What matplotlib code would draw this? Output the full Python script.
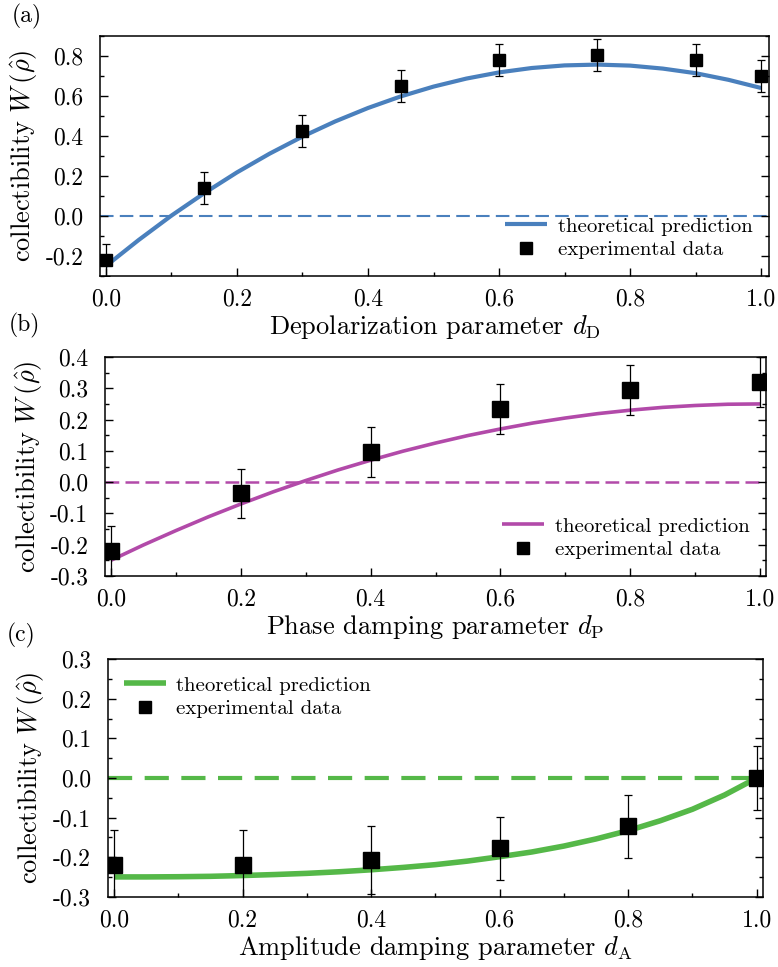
import matplotlib
matplotlib.use("Agg")
import matplotlib.pyplot as plt
from matplotlib.ticker import MultipleLocator

plt.rcParams['font.family'] = ['cmr10', 'DejaVu Serif']
plt.rcParams['mathtext.fontset'] = 'cm'
plt.rcParams['axes.unicode_minus'] = False
plt.rcParams['axes.formatter.use_mathtext'] = False

# ---------------- data ----------------
# (a) depolarization
xa_exp = [0.0, 0.15, 0.30, 0.45, 0.60, 0.75, 0.90, 1.0]
ya_exp = [-0.22, 0.14, 0.425, 0.65, 0.78, 0.805, 0.78, 0.70]
ea_exp = [0.08, 0.08, 0.08, 0.08, 0.08, 0.08, 0.08, 0.08]
xa_th = [0.0, 0.05, 0.10, 0.15, 0.20, 0.25, 0.30, 0.35, 0.40, 0.45, 0.50,
         0.55, 0.60, 0.65, 0.70, 0.75, 0.80, 0.85, 0.90, 0.95, 1.0]
ya_th = [-0.25, -0.12, 0.002, 0.114, 0.218, 0.312, 0.397, 0.473, 0.540,
         0.598, 0.647, 0.687, 0.718, 0.740, 0.753, 0.757, 0.752, 0.737,
         0.714, 0.681, 0.640]

# (b) phase damping
xb_exp = [0.0, 0.2, 0.4, 0.6, 0.8, 1.0]
yb_exp = [-0.22, -0.036, 0.097, 0.235, 0.295, 0.32]
eb_exp = [0.08, 0.078, 0.08, 0.08, 0.08, 0.08]
xb_th = xa_th
yb_th = [-0.25, -0.201, -0.155, -0.111, -0.070, -0.031, 0.005, 0.039,
         0.070, 0.099, 0.125, 0.149, 0.170, 0.189, 0.205, 0.219, 0.230,
         0.239, 0.245, 0.249, 0.250]

# (c) amplitude damping
xc_exp = [0.0, 0.2, 0.4, 0.6, 0.8, 1.0]
yc_exp = [-0.22, -0.22, -0.208, -0.178, -0.122, 0.0]
ec_exp = [0.088, 0.088, 0.086, 0.08, 0.08, 0.08]
xc_th = xa_th
yc_th = [-0.25, -0.25, -0.2495, -0.2485, -0.2465, -0.244, -0.241, -0.237,
         -0.232, -0.226, -0.219, -0.210, -0.199, -0.187, -0.172, -0.154,
         -0.133, -0.108, -0.079, -0.043, 0.0]

xticks = [0.0, 0.2, 0.4, 0.6, 0.8, 1.0]
xlabels = [r'Depolarization parameter $d_{\mathrm{D}}$',
           r'Phase damping parameter $d_{\mathrm{P}}$',
           r'Amplitude damping parameter $d_{\mathrm{A}}$']
ylabel = r'collectibility $W\,(\hat{\rho})$'
panel_labels = ['(a)', '(b)', '(c)']

blue = '#4a80bd'
magenta = '#b24aa9'
green = '#55b848'

fig = plt.figure(figsize=(7.78, 9.67), dpi=100)
W, H = 778, 967

def make_ax(l, r, t, b):
    return fig.add_axes([l / W, 1 - b / H, (r - l) / W, (b - t) / H])

axa = make_ax(100, 769, 36, 276)
axb = make_ax(105, 766, 357, 576)
axc = make_ax(107.7, 763, 659.3, 896.7)

configs = [
    dict(ax=axa, xe=xa_exp, ye=ya_exp, ee=ea_exp, xt=xa_th, yt=ya_th, c=blue,
         xlim=(-0.009, 1.012), ylim=(-0.3, 0.9), ymaj=0.2, ms=9, lw=3.0,
         dlw=1.5, dash=(6.5, 3.0), loc='lower right', mscale=1.0,
         bbox=(1.0, 0.0)),
    dict(ax=axb, xe=xb_exp, ye=yb_exp, ee=eb_exp, xt=xb_th, yt=yb_th, c=magenta,
         xlim=(-0.009, 1.009), ylim=(-0.3, 0.4), ymaj=0.1, ms=11.5, lw=2.6,
         dlw=1.8, dash=(5.5, 2.5), loc='lower right', mscale=0.78,
         bbox=(1.0, 0.0)),
    dict(ax=axc, xe=xc_exp, ye=yc_exp, ee=ec_exp, xt=xc_th, yt=yc_th, c=green,
         xlim=(-0.0098, 1.0098), ylim=(-0.3, 0.3), ymaj=0.1, ms=11.5, lw=4.0,
         dlw=3.0, dash=(5.8, 3.0), loc='upper left', mscale=0.78,
         bbox=(0.0, 1.0)),
]

for i, cfg in enumerate(configs):
    ax = cfg['ax']
    ax.axhline(0.0, color=cfg['c'], lw=cfg['dlw'], dashes=cfg['dash'], zorder=1)
    ax.plot(cfg['xt'], cfg['yt'], color=cfg['c'], lw=cfg['lw'],
            label='theoretical prediction', zorder=2,
            solid_capstyle='butt')
    ax.errorbar(cfg['xe'], cfg['ye'], yerr=cfg['ee'], fmt='none',
                ecolor='black', elinewidth=0.9, capsize=3.0, capthick=0.9,
                zorder=3)
    ax.plot(cfg['xe'], cfg['ye'], 's', color='black', ms=cfg['ms'],
            label='experimental data', zorder=4)
    ax.set_xlim(*cfg['xlim'])
    ax.set_ylim(*cfg['ylim'])
    ax.set_xticks(xticks)
    ax.xaxis.set_minor_locator(MultipleLocator(0.1))
    ax.yaxis.set_major_locator(MultipleLocator(cfg['ymaj']))
    ax.yaxis.set_minor_locator(MultipleLocator(cfg['ymaj'] / 2))
    ax.xaxis.set_major_formatter(matplotlib.ticker.FormatStrFormatter('%.1f'))
    ax.yaxis.set_major_formatter(matplotlib.ticker.FormatStrFormatter('%.1f'))
    ax.tick_params(which='both', direction='in', top=False, right=True,
                   labelsize=17, width=1.0)
    ax.tick_params(which='major', length=6)
    ax.tick_params(which='minor', length=3)
    ax.tick_params(axis='x', pad=9)
    ax.tick_params(axis='y', pad=12)
    for s in ax.spines.values():
        s.set_linewidth(1.1)
    ax.set_xlabel(xlabels[i], fontsize=19, labelpad=2)
    ax.set_ylabel(ylabel, fontsize=19, labelpad=4)
    ax.legend(loc=cfg['loc'], bbox_to_anchor=cfg['bbox'], frameon=False,
              fontsize=15, handlelength=2.0, handletextpad=0.5,
              labelspacing=0.25, markerscale=cfg['mscale'],
              borderaxespad=0.4)

fig.text(12 / W, 1 - 16 / H, panel_labels[0], fontsize=17, va='center', ha='left')
fig.text(9 / W, 1 - 325 / H, panel_labels[1], fontsize=17, va='center', ha='left')
fig.text(7 / W, 1 - 635 / H, panel_labels[2], fontsize=17, va='center', ha='left')

fig.savefig('out.png', dpi=100)
